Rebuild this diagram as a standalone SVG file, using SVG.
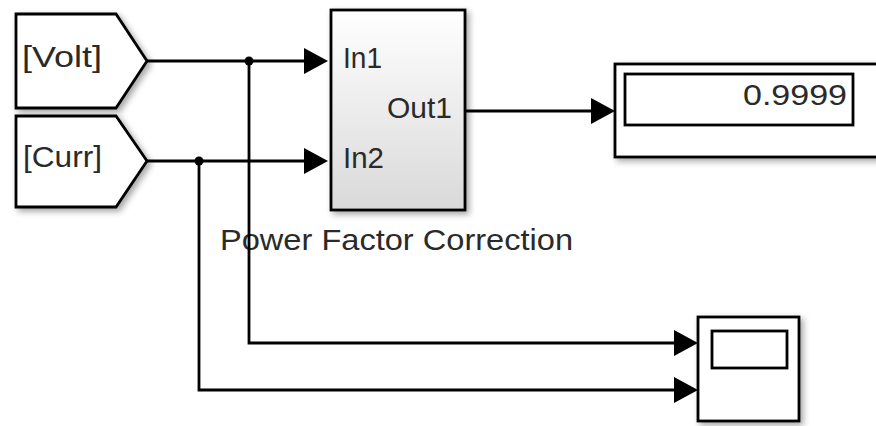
<svg xmlns="http://www.w3.org/2000/svg" width="876" height="426" viewBox="0 0 876 426">
  <defs>
    <style>
      .blk { fill: #ffffff; stroke: #000; stroke-width: 2.8; filter: url(#shadow); }
      .inner { fill: #ffffff; stroke: #000; stroke-width: 2.8; }
      .txt { font-family: "Liberation Sans", Arial, sans-serif; font-size: 30px; fill: #2a2a2a; }
      .wire { fill: none; stroke: #000; stroke-width: 2.8; marker-end: url(#arrow); }
      .dot { fill: #000; }
    </style>
    <linearGradient id="subFill" x1="0" y1="0" x2="0" y2="1">
      <stop offset="0" stop-color="#ffffff"/>
      <stop offset="1" stop-color="#d9d9d9"/>
    </linearGradient>
    <filter id="shadow" x="-10%" y="-10%" width="130%" height="130%">
      <feDropShadow dx="3" dy="3" stdDeviation="3" flood-color="#000" flood-opacity="0.35"/>
    </filter>
    <marker id="arrow" markerUnits="userSpaceOnUse" markerWidth="24" markerHeight="26" refX="0" refY="13" orient="auto">
      <path d="M0,0 L24,13 L0,26 z" fill="#000"/>
    </marker>
  </defs>
  <rect width="876" height="426" fill="#ffffff"/>

  <g id="goto-volt">
    <polygon class="blk" points="16,14 116,14 147,61 116,108 16,108"/>
    <text class="txt" x="22" y="67" textLength="80" lengthAdjust="spacingAndGlyphs">[Volt]</text>
  </g>

  <g id="goto-curr">
    <polygon class="blk" points="16,116 116,116 147,161 116,207 16,207"/>
    <text class="txt" x="23" y="167" textLength="79" lengthAdjust="spacingAndGlyphs">[Curr]</text>
  </g>

  <g id="pfc">
    <rect x="331" y="10" width="134" height="200" fill="url(#subFill)" stroke="#000" stroke-width="2.8" filter="url(#shadow)"/>
    <text class="txt" x="343" y="68" textLength="39" lengthAdjust="spacingAndGlyphs">In1</text>
    <text class="txt" x="343" y="168" textLength="41" lengthAdjust="spacingAndGlyphs">In2</text>
    <text class="txt" x="387" y="118" textLength="65" lengthAdjust="spacingAndGlyphs">Out1</text>
    <text class="txt" x="220" y="250" textLength="353" lengthAdjust="spacingAndGlyphs">Power Factor Correction</text>
  </g>

  <g id="display">
    <rect class="blk" x="615" y="64" width="275" height="93"/>
    <rect class="inner" x="625" y="74" width="228" height="51"/>
    <text class="txt" x="847" y="105" text-anchor="end" textLength="104" lengthAdjust="spacingAndGlyphs">0.9999</text>
  </g>

  <g id="scope">
    <rect class="blk" x="698" y="317" width="101" height="104"/>
    <rect class="inner" x="712" y="331" width="75" height="37"/>
  </g>

  <g id="connectors">
    <path class="wire" d="M147,61 H304"/>
    <path class="wire" d="M147,161 H304"/>
    <path class="wire" d="M465,111 H591"/>
    <path class="wire" d="M249,61 V343 H674"/>
    <path class="wire" d="M199,161 V390 H674"/>
    <circle class="dot" cx="249" cy="61" r="4.5"/>
    <circle class="dot" cx="199" cy="161" r="4.5"/>
  </g>
</svg>
